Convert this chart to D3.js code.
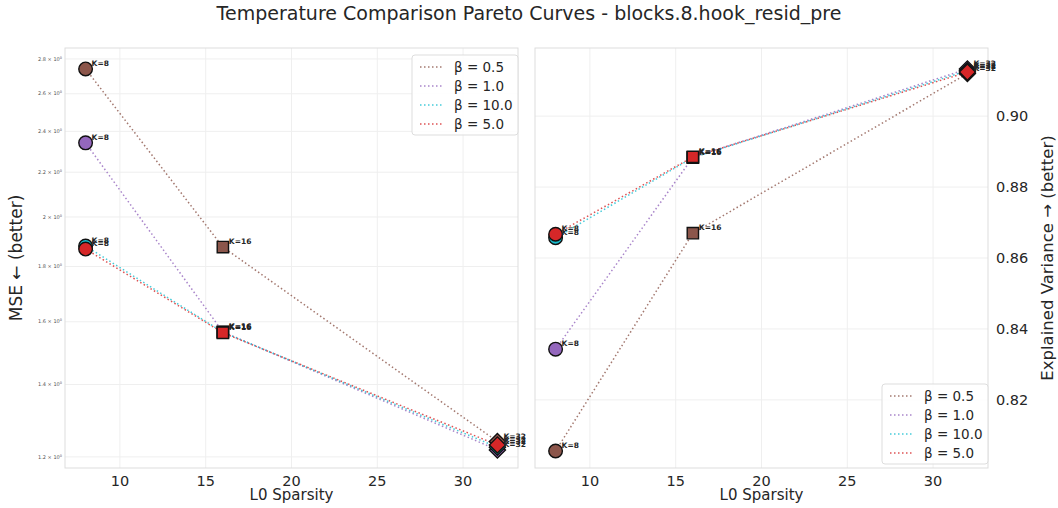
<!DOCTYPE html>
<html>
<head>
<meta charset="utf-8">
<script src="https://cdn.jsdelivr.net/npm/d3@7"></script>
<style>
  body { margin: 0; background: #fff; }
  svg { font-family: "DejaVu Sans", sans-serif; }
</style>
</head>
<body>
<svg id="chart" width="1058" height="508"></svg>
<script>
// ---- data ----
const kValues = [8, 16, 32];
const betaLabels = ['0.5', '1.0', '10.0', '5.0'];
const betaColors = ['#8c564b', '#9467bd', '#17becf', '#d62728'];

// MSE per beta (K = 8, 16, 32)
const mseBeta05 = [2.741, 1.876, 1.240];
const mseBeta1 = [2.342, 1.566, 1.218];
const mseBeta10 = [1.880, 1.565, 1.225];
const mseBeta5 = [1.868, 1.563, 1.231];

// explained variance per beta (K = 8, 16, 32)
const evBeta05 = [0.8056, 0.8670, 0.9120];
const evBeta1 = [0.8343, 0.8884, 0.9133];
const evBeta10 = [0.8657, 0.8883, 0.9128];
const evBeta5 = [0.8667, 0.8885, 0.9124];

const xTicks = [10, 15, 20, 25, 30];
const mseTicks = [1.2, 1.4, 1.6, 1.8, 2, 2.2, 2.4, 2.6, 2.8];
const evTicks = [0.82, 0.84, 0.86, 0.88, 0.90];

const mseSeries = [mseBeta05, mseBeta1, mseBeta10, mseBeta5];
const evSeries = [evBeta05, evBeta1, evBeta10, evBeta5];

const svg = d3.select('#chart');
const textColor = '#262626';

svg.append('text')
    .attr('x', 529).attr('y', 20)
    .attr('text-anchor', 'middle')
    .attr('font-size', '19px')
    .attr('fill', textColor)
    .text('Temperature Comparison Pareto Curves - blocks.8.hook_resid_pre');

// marker path per K index (circle, square, diamond = rotated square)
function markerPath(i) {
    if (i === 0) return d3.symbol().type(d3.symbolCircle).size(145)();
    if (i === 1) return d3.symbol().type(d3.symbolSquare).size(128)();
    return d3.symbol().type(d3.symbolSquare).size(130)();
}

function drawPanel(opts) {
    const { left, right, top, bottom, y, yTicks, series, yFormat, legendPos } = opts;
    const x = d3.scaleLinear().domain([6.8, 33.2]).range([left, right]);
    const g = svg.append('g');

    // grid
    g.selectAll('.vgrid').data(xTicks).enter().append('line')
        .attr('x1', d => x(d)).attr('x2', d => x(d))
        .attr('y1', top).attr('y2', bottom)
        .attr('stroke', '#efefef').attr('stroke-width', 1);
    g.selectAll('.hgrid').data(yTicks).enter().append('line')
        .attr('x1', left).attr('x2', right)
        .attr('y1', d => y(d)).attr('y2', d => y(d))
        .attr('stroke', '#efefef').attr('stroke-width', 1);

    // frame
    g.append('rect')
        .attr('x', left).attr('y', top)
        .attr('width', right - left).attr('height', bottom - top)
        .attr('fill', 'none').attr('stroke', '#dddddd').attr('stroke-width', 1);

    // x tick labels
    g.selectAll('.xt').data(xTicks).enter().append('text')
        .attr('x', d => x(d)).attr('y', bottom + 18)
        .attr('text-anchor', 'middle')
        .attr('font-size', '14.5px').attr('fill', textColor)
        .text(d => d);

    g.append('text')
        .attr('x', (left + right) / 2).attr('y', bottom + 32)
        .attr('text-anchor', 'middle')
        .attr('font-size', '15px').attr('fill', textColor)
        .text('L0 Sparsity');

    // y tick labels
    yFormat(g, yTicks, y, left, right);

    // lines
    const line = d3.line().x((d, i) => x(kValues[i])).y(d => y(d));
    series.forEach((vals, s) => {
        g.append('path')
            .datum(vals)
            .attr('d', line)
            .attr('fill', 'none')
            .attr('stroke', betaColors[s])
            .attr('stroke-opacity', 0.8)
            .attr('stroke-width', 1.5)
            .attr('stroke-dasharray', '1.5,2.5');
    });

    // markers + labels
    series.forEach((vals, s) => {
        vals.forEach((v, i) => {
            g.append('path')
                .attr('d', markerPath(i))
                .attr('transform', `translate(${x(kValues[i])},${y(v)})` + (i === 2 ? ' rotate(45)' : ''))
                .attr('fill', betaColors[s])
                .attr('stroke', '#111')
                .attr('stroke-width', 1.4);
        });
    });
    series.forEach((vals, s) => {
        vals.forEach((v, i) => {
            g.append('text')
                .attr('x', x(kValues[i]) + 6)
                .attr('y', y(v) - 3)
                .attr('font-size', '7.5px')
                .attr('font-weight', 'bold')
                .attr('fill', textColor)
                .text('K=' + kValues[i]);
        });
    });

    // legend
    const lg = g.append('g').attr('transform', `translate(${legendPos[0]},${legendPos[1]})`);
    lg.append('rect')
        .attr('width', 106).attr('height', 80).attr('rx', 3)
        .attr('fill', '#fff').attr('fill-opacity', 0.85)
        .attr('stroke', '#dddddd');
    betaLabels.forEach((b, s) => {
        const ry = 12 + s * 19;
        lg.append('line')
            .attr('x1', 8).attr('x2', 30).attr('y1', ry).attr('y2', ry)
            .attr('stroke', betaColors[s]).attr('stroke-opacity', 0.8)
            .attr('stroke-width', 1.5).attr('stroke-dasharray', '1.5,2.5');
        lg.append('text')
            .attr('x', 42).attr('y', ry + 5)
            .attr('font-size', '13.5px').attr('fill', textColor)
            .text('β = ' + b);
    });
    return g;
}

// ---- left: MSE (log scale) ----
const yMse = d3.scaleLog().domain([1.172, 2.866]).range([468, 48]);
drawPanel({
    left: 65, right: 518, top: 48, bottom: 468,
    y: yMse, yTicks: mseTicks, series: mseSeries,
    legendPos: [412, 55],
    yFormat: (g, ticks, y, left) => {
        ticks.forEach(t => {
            const txt = g.append('text')
                .attr('x', left - 3).attr('y', y(t) + 1.7)
                .attr('text-anchor', 'end')
                .attr('font-size', '5px').attr('fill', '#555');
            txt.append('tspan').text(t + ' × 10');
            txt.append('tspan').attr('dy', -2).attr('font-size', '3.5px').text('0');
        });
    }
});

svg.append('text')
    .attr('transform', 'translate(22,258) rotate(-90)')
    .attr('text-anchor', 'middle')
    .attr('font-size', '17px').attr('fill', textColor)
    .text('MSE ← (better)');

// ---- right: explained variance ----
const yEv = d3.scaleLinear().domain([0.8008, 0.9192]).range([468, 48]);
drawPanel({
    left: 535, right: 988, top: 48, bottom: 468,
    y: yEv, yTicks: evTicks, series: evSeries,
    legendPos: [882, 384],
    yFormat: (g, ticks, y, left, right) => {
        g.selectAll('.yt').data(ticks).enter().append('text')
            .attr('x', right + 8).attr('y', d => y(d) + 5)
            .attr('font-size', '14.5px').attr('fill', textColor)
            .text(d => d3.format('.2f')(d));
    }
});

svg.append('text')
    .attr('transform', 'translate(1053,258) rotate(-90)')
    .attr('text-anchor', 'middle')
    .attr('font-size', '16.5px').attr('fill', textColor)
    .text('Explained Variance → (better)');
</script>
</body>
</html>
